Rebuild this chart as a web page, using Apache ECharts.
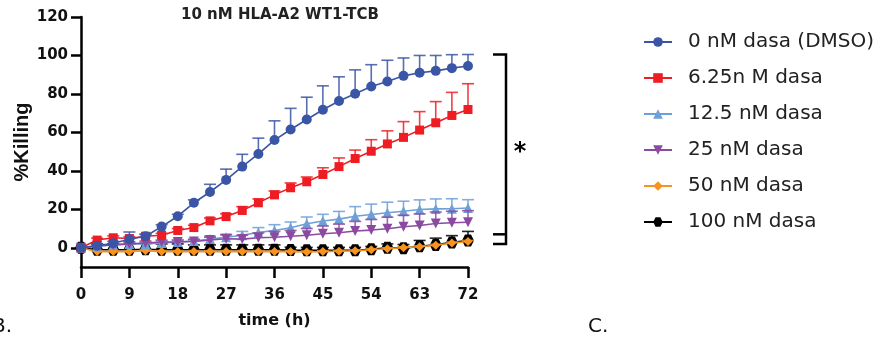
<!DOCTYPE html>
<html>
<head>
<meta charset="utf-8">
<script src="https://cdn.jsdelivr.net/npm/echarts@6/dist/echarts.min.js"></script>
<style>
html,body{margin:0;padding:0;background:#fff;}
#chart{width:879px;height:341px;}
</style>
</head>
<body>
<div id="chart"></div>
<script>
// ---- data ----
const times = [0,3,6,9,12,15,18,21,24,27,30,33,36,39,42,45,48,51,54,57,60,63,66,69,72];
const xTicks = [0,9,18,27,36,45,54,63,72];
const yTicks = [0,20,40,60,80,100,120];

const seriesNames = ['0 nM dasa (DMSO)','6.25n M dasa','12.5 nM dasa','25 nM dasa','50 nM dasa','100 nM dasa'];

const dmso    = [0,1,2.3,4.4,6,11,16.4,23.4,29,35.3,42.2,48.8,56,61.5,66.7,71.8,76.3,80.1,83.9,86.5,89.4,91,92,93.4,94.5];
const dmsoErr = [0,1,1,3.8,1,1,1,1.5,4,5.6,6.4,8.2,10,11,11.6,12.4,12.6,12.4,11.3,11,9.3,9,8,7,6];
const d625    = [0,4,5.2,4.8,6,6.5,9,10.5,14,16.2,19.4,23.4,27.5,31.2,34.3,38.1,42.2,46.4,50.2,54,57.4,61.2,65,68.8,71.9];
const d625Err = [0,1,1,1,1,1,1,1.2,1.5,1.5,2,2,2,2.5,2.5,3.5,4.5,4.4,6,6.8,8.2,9.6,11,12,13.4];
const d125    = [0,1,1.5,2,2,2.5,3,3.5,4.5,5.5,6.5,8,9,10.4,12.5,13.9,14.9,16.4,17.3,18.2,19,19.9,20.2,20.3,20.7];
const d125Err = [0,0.5,0.5,1,1,1,1,1,1.5,1.5,2,2.5,3,3,3.5,3.5,4,5,5.4,5.5,5.2,5,5.2,5.2,4.3];
const d25     = [0,1,1.5,2,2.5,3,3,3.3,4,4.7,4.5,5.2,5.5,6,6.5,7.3,7.8,8.7,9.2,9.9,10.9,11.6,12.6,13,13.3];
const d25Err  = [0,0.5,0.5,1,1,1,1,1,1.5,2,2,2.5,3,3,3.5,4,4.5,5,5.5,6,6,6,6,6,6];
const d50     = [0,-2,-2,-2,-1.5,-2,-2,-2,-2,-2,-2,-2,-2,-2,-2.2,-2,-1.8,-1.6,-1,-0.5,0,0.5,1.3,2.5,3.3];
const d50Err  = [0,0.5,0.5,0.5,0.5,0.5,0.5,0.5,0.5,0.5,0.5,0.5,0.5,0.5,0.5,0.5,0.5,0.5,0.5,0.5,0.5,0.5,0.5,0.5,0.5];
const d100    = [0,-1,-1,-1,-0.8,-1,-1,-1,-1,-1,-1,-1,-1,-1.2,-1.3,-1.3,-1.3,-1.3,-0.8,0,-0.3,0.8,1.5,2.8,3.8];
const d100Err = [0,3,3,3,3,3,3,2.5,2.5,2.5,2.5,2.5,2.5,1.5,1.5,1.5,1.5,1.5,1.5,2,2,3,3.5,3.5,4.7];

// significance bracket (in %Killing units)
const bracketTop = 100.5;
const bracketMid = 7;
const bracketLow = 2;

// ---- styles ----
const hexagon = 'path://M-1 0L-0.5 -0.866L0.5 -0.866L1 0L0.5 0.866L-0.5 0.866Z';
const styles = [
  {color:'#3a55a6', symbol:'circle', size:10, rot:0, z:8},
  {color:'#ee1d24', symbol:'rect', size:9, rot:0, z:7},
  {color:'#6e9fd9', symbol:'triangle', size:10, rot:0, z:5},
  {color:'#8b4aa0', symbol:'triangle', size:10, rot:180, z:6},
  {color:'#f7931e', symbol:'diamond', size:9, rot:0, z:4},
  {color:'#000000', symbol:hexagon, size:12, rot:0, z:3}
];
const values = [dmso,d625,d125,d25,d50,d100];
const errors = [dmsoErr,d625Err,d125Err,d25Err,d50Err,d100Err];

const FONT = 'DejaVu Sans';

const series = [];
values.forEach((vals, i) => {
  const st = styles[i];
  const errData = times.map((t, k) => [t, vals[k], errors[i][k]]);
  series.push({
    type: 'custom',
    z: st.z,
    silent: true,
    data: errData,
    encode: {x: 0, y: 1},
    renderItem: function (params, api) {
      const x = api.value(0), y = api.value(1), e = api.value(2);
      if (!e) return null;
      const p0 = api.coord([x, y]);
      const p1 = api.coord([x, y + e]);
      const s = {stroke: st.color, lineWidth: 1.6, opacity: 0.85};
      return {
        type: 'group',
        children: [
          {type: 'line', shape: {x1: p0[0], y1: p0[1], x2: p1[0], y2: p1[1]}, style: s},
          {type: 'line', shape: {x1: p1[0] - 6, y1: p1[1], x2: p1[0] + 6, y2: p1[1]}, style: s}
        ]
      };
    }
  });
  series.push({
    name: seriesNames[i],
    type: 'line',
    z: st.z,
    data: times.map((t, k) => [t, vals[k]]),
    symbol: st.symbol,
    symbolSize: st.size,
    symbolRotate: st.rot,
    showAllSymbol: true,
    lineStyle: {color: st.color, width: 1.6},
    itemStyle: {color: st.color, borderWidth: 0},
    emphasis: {disabled: true}
  });
});

const chart = echarts.init(document.getElementById('chart'), null, {renderer: 'canvas'});
const option = {
  animation: false,
  backgroundColor: '#fff',
  title: {
    text: '10 nM HLA-A2 WT1-TCB',
    left: 280, top: 8, textAlign: 'center', padding: 0,
    textStyle: {fontFamily: FONT, fontSize: 15, fontWeight: 'bold', color: '#222'}
  },
  grid: {left: 81, right: 411, top: 17, bottom: 74, containLabel: false},
  legend: {
    orient: 'vertical',
    left: 643, top: 31, padding: 0,
    itemWidth: 28, itemHeight: 12, itemGap: 14,
    data: seriesNames,
    selectedMode: false,
    textStyle: {fontFamily: FONT, fontSize: 20, color: '#222', lineHeight: 22, padding: [0,0,0,11]}
  },
  xAxis: {
    type: 'value', min: 0, max: 72, interval: 9,
    name: 'time (h)', nameLocation: 'middle', nameGap: 46,
    nameTextStyle: {fontFamily: FONT, fontSize: 16, fontWeight: 'bold', color: '#111'},
    axisLine: {onZero: false, lineStyle: {color: '#000', width: 2.5}},
    axisTick: {length: 11, lineStyle: {color: '#000', width: 2.5}},
    axisLabel: {margin: 21, fontFamily: FONT, fontSize: 15, fontWeight: 'bold', color: '#111'},
    splitLine: {show: false}
  },
  yAxis: {
    type: 'value', min: -10, max: 120,
    name: '%Killing', nameLocation: 'middle', nameGap: 48,
    nameTextStyle: {fontFamily: 'Liberation Sans', fontSize: 20, fontWeight: 'bold', color: '#111'},
    axisLine: {onZero: false, lineStyle: {color: '#000', width: 2.5}},
    axisTick: {length: 10, customValues: yTicks, lineStyle: {color: '#000', width: 2.5}},
    axisLabel: {margin: 13, customValues: yTicks, fontFamily: FONT, fontSize: 15, fontWeight: 'bold', color: '#111'},
    splitLine: {show: false}
  },
  series: series
};
chart.setOption(option);

// bracket + asterisk + panel letters
const pTop = chart.convertToPixel({gridIndex: 0}, [72, bracketTop]);
const pMid = chart.convertToPixel({gridIndex: 0}, [72, bracketMid]);
const pLow = chart.convertToPixel({gridIndex: 0}, [72, bracketLow]);
const bx0 = pTop[0] + 25, bx1 = pTop[0] + 38;
const bStyle = {stroke: '#000', lineWidth: 2.5};
chart.setOption({
  graphic: [
    {type: 'polyline', shape: {points: [[bx0, pTop[1]], [bx1, pTop[1]], [bx1, pLow[1]], [bx0, pLow[1]]]}, style: Object.assign({fill: null}, bStyle)},
    {type: 'line', shape: {x1: bx0, y1: pMid[1], x2: bx1, y2: pMid[1]}, style: bStyle},
    {type: 'text', x: bx1 + 14, y: (pTop[1] + pLow[1]) / 2 + 4, style: {text: '*', font: 'bold 24px ' + FONT, fill: '#000', align: 'center', verticalAlign: 'middle'}},
    {type: 'text', x: -8, y: 327, style: {text: 'B.', font: '20px ' + FONT, fill: '#111', verticalAlign: 'middle'}},
    {type: 'text', x: 588, y: 327, style: {text: 'C.', font: '20px ' + FONT, fill: '#111', verticalAlign: 'middle'}}
  ]
});
</script>
</body>
</html>
